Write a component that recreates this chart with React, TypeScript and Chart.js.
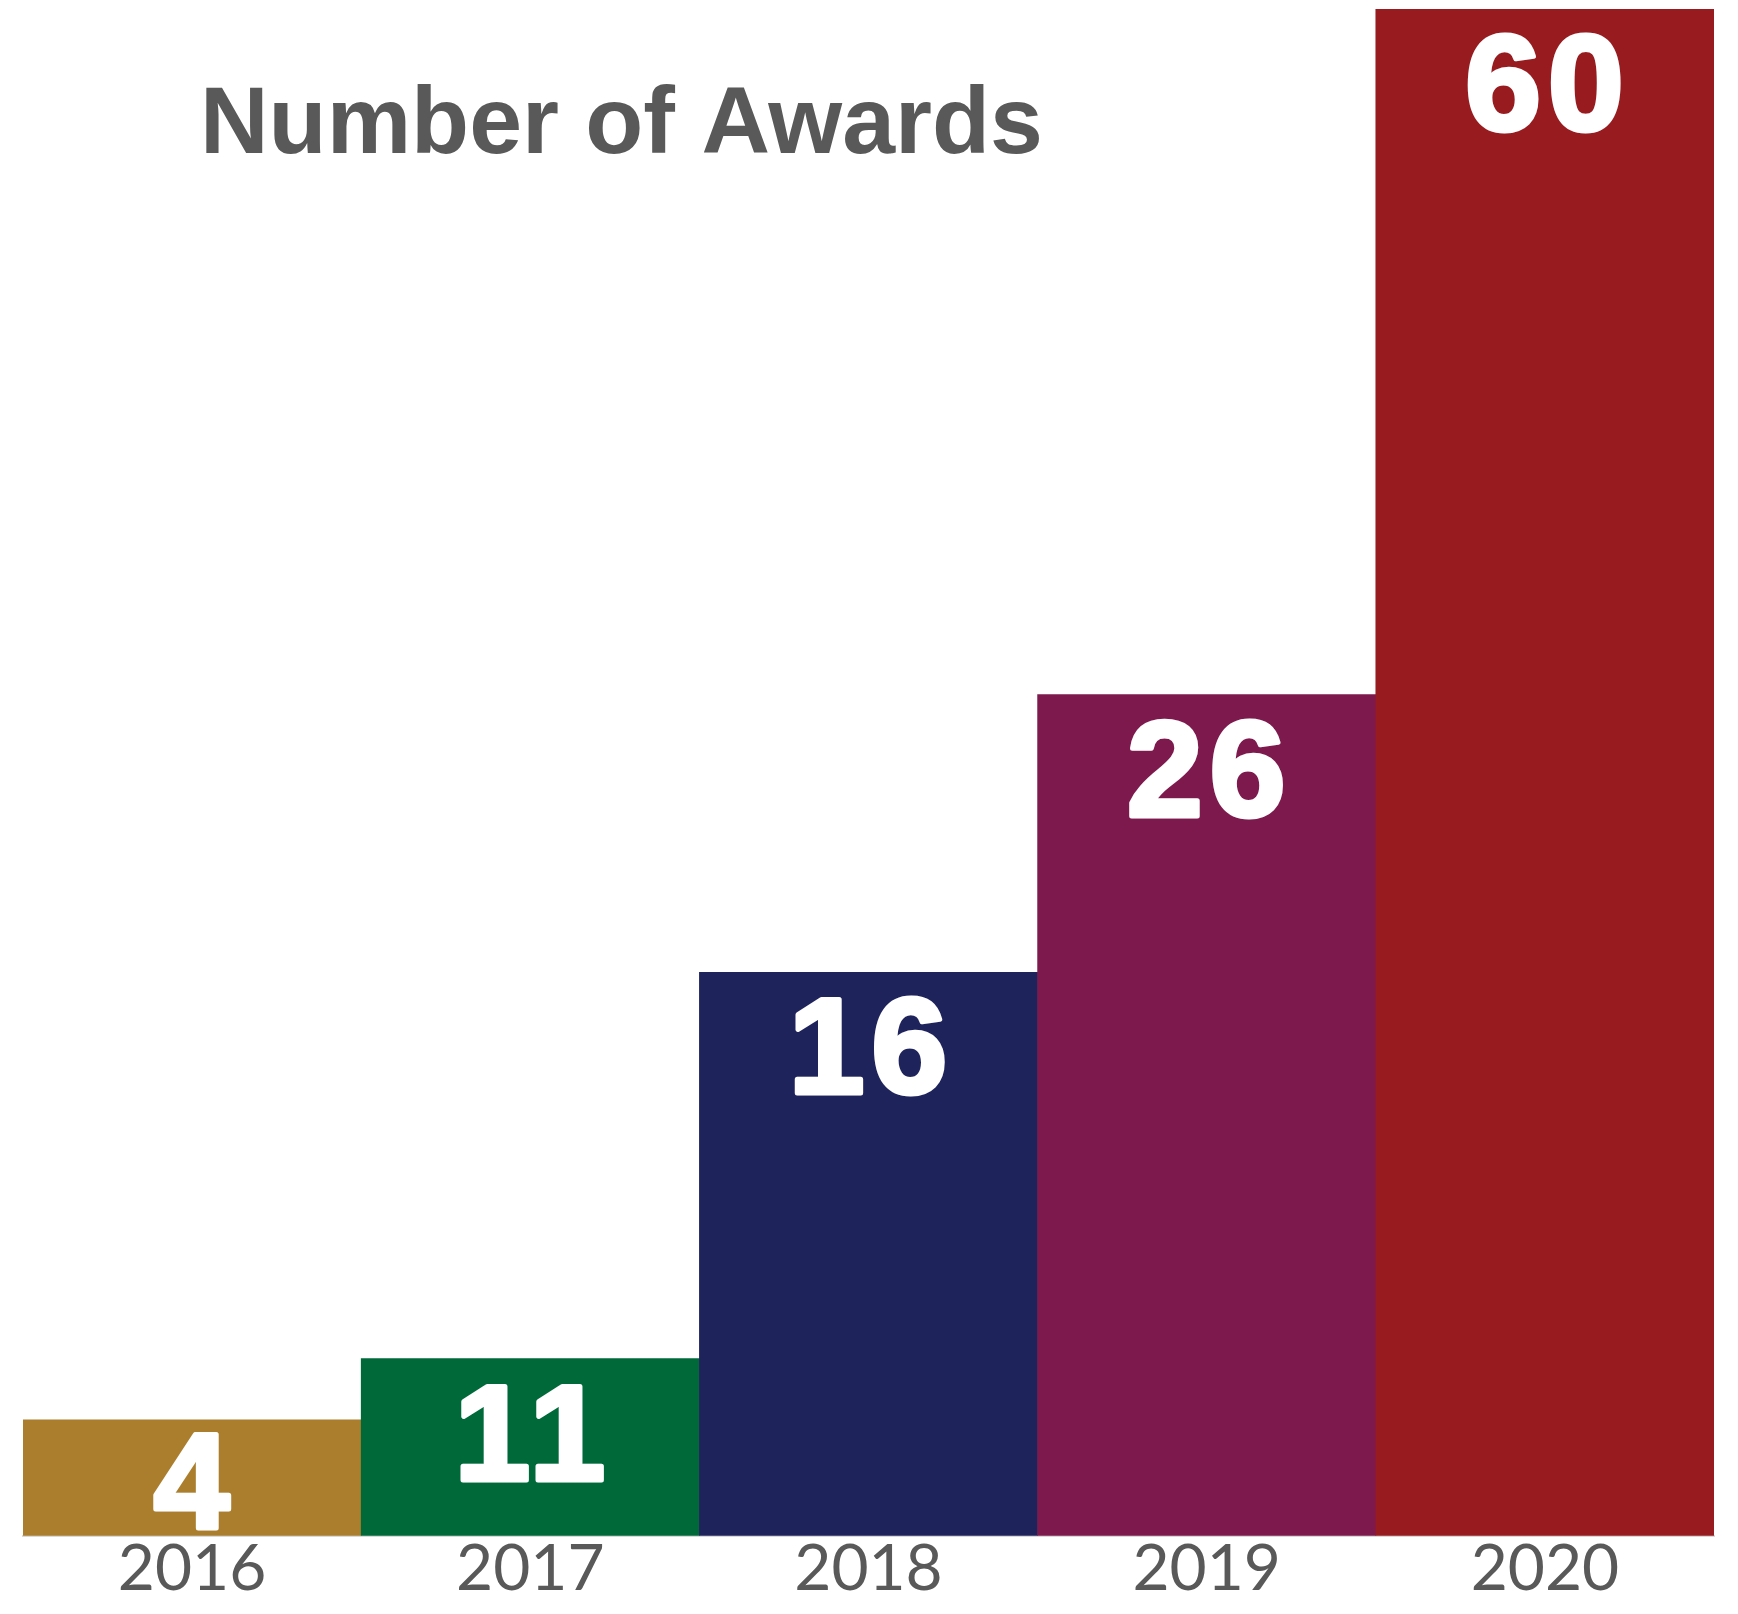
import React, { useEffect, useRef } from 'react';
import { Chart, registerables } from 'chart.js';

Chart.register(...registerables);

// Category labels (x axis)
const years = ['2016', '2017', '2018', '2019', '2020'];
// Printed values on the bars
const awards = [4, 11, 16, 26, 60];
// Bar heights as drawn in the picture, in percent of the tallest bar
const barHeights = [7.6, 11.6, 36.9, 55.1, 100];
// Bar fill colours
const barColors = ['#AA7E2D', '#00693A', '#1F235B', '#7D194D', '#971B1F'];
const titleText = 'Number of Awards';

const labelPlugin = {
  id: 'awardLabels',
  afterDatasetsDraw(chart: any) {
    const ctx = chart.ctx as CanvasRenderingContext2D;
    const meta = chart.getDatasetMeta(0);
    ctx.save();
    ctx.fillStyle = '#FFFFFF';
    ctx.strokeStyle = '#FFFFFF';
    ctx.lineWidth = 5;
    ctx.lineJoin = 'round';
    ctx.font = 'bold 136px "Liberation Sans", Arial, sans-serif';
    ctx.textAlign = 'center';
    ctx.textBaseline = 'alphabetic';
    (ctx as any).letterSpacing = '7px';
    meta.data.forEach((bar: any, i: number) => {
      const { x, y, base } = bar.getProps(['x', 'y', 'base'], true);
      const baseline = Math.min(y + 121, base - 8);
      ctx.fillText(String(awards[i]), x + 3, baseline);
      ctx.strokeText(String(awards[i]), x + 3, baseline);
    });
    (ctx as any).letterSpacing = '0px';
    ctx.fillStyle = '#595959';
    ctx.font = 'bold 95px "Liberation Sans", Arial, sans-serif';
    ctx.textAlign = 'left';
    ctx.fillText(titleText, chart.chartArea.left + 177, chart.chartArea.top + 144);
    ctx.restore();
  },
};

export default function App() {
  const canvasRef = useRef<HTMLCanvasElement | null>(null);

  useEffect(() => {
    document.body.style.margin = '0';
    const canvas = canvasRef.current;
    if (!canvas) return;
    const chart = new Chart(canvas, {
      type: 'bar',
      data: {
        labels: years,
        datasets: [
          {
            data: barHeights,
            backgroundColor: barColors,
            borderWidth: 0,
            categoryPercentage: 1,
            barPercentage: 1,
          },
        ],
      },
      options: {
        responsive: true,
        maintainAspectRatio: false,
        animation: false,
        layout: { padding: { left: 23, right: 24, top: 9, bottom: 11 } },
        plugins: {
          legend: { display: false },
          tooltip: { enabled: false },
          title: { display: false },
        },
        scales: {
          x: {
            grid: { display: false, drawTicks: false },
            border: { display: true, color: '#D9D9D9', width: 2 },
            ticks: {
              color: '#595959',
              font: { family: 'Lato, "Open Sans", sans-serif', size: 64, lineHeight: 1.05 },
              padding: 0,
              autoSkip: false,
              maxRotation: 0,
            },
          },
          y: {
            display: false,
            min: 0,
            max: 100,
          },
        },
      },
      plugins: [labelPlugin],
    });
    return () => chart.destroy();
  }, []);

  return (
    <div style={{ position: 'absolute', left: 0, top: 0, width: 1738, height: 1614 }}>
      <canvas ref={canvasRef} />
    </div>
  );
}
